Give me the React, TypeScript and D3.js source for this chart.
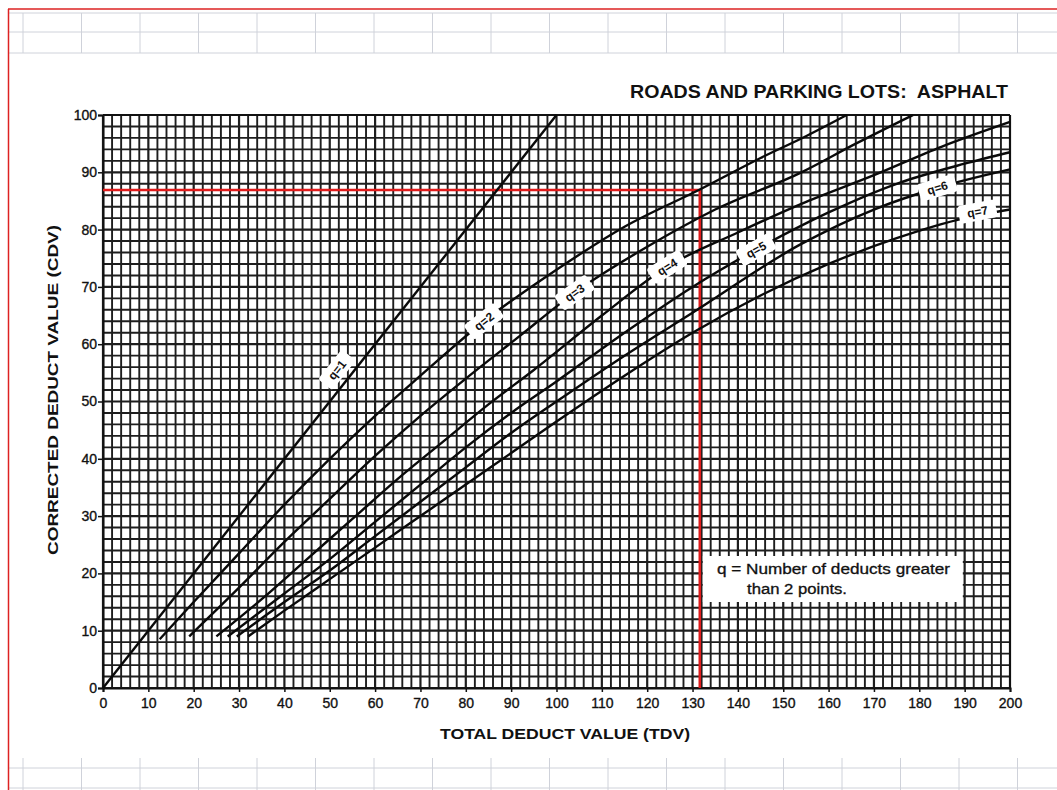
import { useEffect, useRef } from 'react'
import * as d3 from 'd3'

const WIDTH = 1057
const HEIGHT = 790

// corrected deduct value curves, [TDV, CDV]
const q1 = [[0, 0], [100, 100]]
const q2 = [[12.5, 8.5], [20, 15], [30, 23.5], [40, 32], [50, 40], [60, 47.5], [70, 54.5], [84, 64], [100, 73], [115, 80.5], [131.6, 87], [145, 92.5], [155, 96.3], [164, 100]]
const q3 = [[19, 9], [30, 17.5], [40, 25.5], [50, 33], [60, 40.5], [70, 47.5], [80, 54], [92, 61.5], [104, 69], [120, 77], [135, 83.5], [154, 90], [166, 95], [178.6, 100]]
const q4 = [[25, 9], [35, 15.5], [45, 22.5], [55, 29.5], [65, 36.5], [75, 43], [85, 49.5], [95, 55.5], [110, 65], [124.4, 73.5], [140, 79.5], [154, 84.5], [170, 89.5], [185, 94.5], [200, 98.8]]
const q5 = [[27.5, 9], [40, 16.5], [50, 22.5], [60, 29], [70, 35.5], [80, 42], [90, 48], [100, 53.5], [115, 62], [130, 70], [144, 76.5], [160, 83], [175, 88], [190, 91.5], [200, 93.5]]
const q6 = [[29.5, 9], [40, 15], [50, 20.5], [60, 26.5], [70, 32.5], [80, 38.5], [90, 44.5], [100, 50], [115, 58], [130, 65.5], [154, 77.5], [170, 83.5], [184, 87.3], [200, 90.5]]
const q7 = [[32, 9], [40, 13.5], [50, 19], [60, 24.5], [70, 30], [80, 35.5], [90, 41], [100, 46.5], [115, 54.5], [130, 62], [145, 68.5], [160, 74], [175, 78.5], [190, 82], [200, 83.5]]

const curves = [q1, q2, q3, q4, q5, q6, q7]
const curveNames = ['q=1', 'q=2', 'q=3', 'q=4', 'q=5', 'q=6', 'q=7']
const labelTdv = [54, 84, 104, 124.4, 144, 184, 193]

const tdvTicks = d3.range(0, 201, 10)
const cdvTicks = d3.range(0, 101, 10)

// worked example (red lines)
const readTdv = 131.6
const readCdv = 86.9

const title = 'ROADS AND PARKING LOTS:  ASPHALT'
const xTitle = 'TOTAL DEDUCT VALUE (TDV)'
const yTitle = 'CORRECTED DEDUCT VALUE (CDV)'
const note = ['q = Number of deducts greater', 'than 2 points.']

const FONT = '"Liberation Sans", Arial, Helvetica, sans-serif'

function cdvAt(curve: number[][], t: number) {
  const xs = curve.map(d => d[0])
  const i = Math.max(1, Math.min(curve.length - 1, d3.bisectLeft(xs, t)))
  const [x0, y0] = curve[i - 1]
  const [x1, y1] = curve[i]
  return y0 + ((t - x0) / (x1 - x0)) * (y1 - y0)
}

export default function App() {
  const svgRef = useRef<SVGSVGElement>(null)

  useEffect(() => {
    if (!svgRef.current) return
    const svg = d3.select(svgRef.current)
    svg.selectAll('*').remove()

    // spreadsheet background
    const sheet = svg.append('g')
    const colX = d3.range(23, WIDTH, 58.5)
    ;[13, 32, 53, 768, 788].forEach(y =>
      sheet.append('line').attr('x1', 8).attr('x2', WIDTH).attr('y1', y).attr('y2', y)
    )
    colX.forEach(x => {
      sheet.append('line').attr('x1', x).attr('x2', x).attr('y1', 13).attr('y2', 53)
      sheet.append('line').attr('x1', x).attr('x2', x).attr('y1', 758).attr('y2', HEIGHT)
    })
    sheet.selectAll('line').attr('stroke', '#cfd2da').attr('stroke-width', 1)
    svg.append('line').attr('x1', 8).attr('x2', WIDTH).attr('y1', 9).attr('y2', 9)
      .attr('stroke', '#d22').attr('stroke-width', 1.5)
    svg.append('line').attr('x1', 8.5).attr('x2', 8.5).attr('y1', 9).attr('y2', HEIGHT)
      .attr('stroke', '#d22').attr('stroke-width', 1.5)

    const x = d3.scaleLinear().domain([0, 200]).range([103, 1010])
    const y = d3.scaleLinear().domain([0, 100]).range([688, 115])

    // graph paper grid
    const grid = svg.append('g').attr('stroke', '#1e1e1e')
    grid.selectAll('.gv')
      .data(d3.range(0, 201, 2))
      .enter()
      .append('line')
      .attr('x1', d => x(d)).attr('x2', d => x(d))
      .attr('y1', y(0)).attr('y2', y(100))
      .attr('stroke-width', d => (d % 10 === 0 ? 2.2 : 1.9))
    grid.selectAll('.gh')
      .data(d3.range(0, 101, 2))
      .enter()
      .append('line')
      .attr('x1', x(0)).attr('x2', x(200))
      .attr('y1', d => y(d)).attr('y2', d => y(d))
      .attr('stroke-width', d => (d % 10 === 0 ? 2.2 : 1.9))

    // axes
    const xAxis = svg.append('g')
      .attr('transform', `translate(0,${y(0)})`)
      .call(d3.axisBottom(x).tickValues(tdvTicks).tickSize(4).tickPadding(6))
    const yAxis = svg.append('g')
      .attr('transform', `translate(${x(0)},0)`)
      .call(d3.axisLeft(y).tickValues(cdvTicks).tickSize(5).tickPadding(1))
    ;[xAxis, yAxis].forEach(a => {
      a.select('.domain').attr('stroke', '#111').attr('stroke-width', 2)
      a.selectAll('.tick line').attr('stroke', '#111').attr('stroke-width', 1.5)
      a.selectAll('.tick text')
        .attr('fill', '#111')
        .attr('stroke', '#111')
        .attr('stroke-width', 0.35)
        .style('font-family', FONT)
        .style('font-size', '14px')
    })
    svg.append('line')
      .attr('x1', x(0)).attr('x2', x(200)).attr('y1', y(100)).attr('y2', y(100))
      .attr('stroke', '#111').attr('stroke-width', 2)
    svg.append('line')
      .attr('x1', x(200)).attr('x2', x(200)).attr('y1', y(0)).attr('y2', y(100))
      .attr('stroke', '#111').attr('stroke-width', 2)

    // red reading lines
    svg.append('path')
      .attr('d', `M${x(0)},${y(readCdv)}H${x(readTdv)}V${y(0)}`)
      .attr('fill', 'none')
      .attr('stroke', '#e01b1b')
      .attr('stroke-width', 2.6)

    // curves
    const line = d3.line<number[]>()
      .x(d => x(d[0]))
      .y(d => y(d[1]))
      .curve(d3.curveMonotoneX)
    svg.selectAll('.curve')
      .data(curves)
      .enter()
      .append('path')
      .attr('class', 'curve')
      .attr('d', d => line(d))
      .attr('fill', 'none')
      .attr('stroke', '#0a0a0a')
      .attr('stroke-width', 2.4)

    // curve labels
    curves.forEach((c, i) => {
      const t = labelTdv[i]
      const px = x(t)
      const py = y(cdvAt(c, t))
      const ang = (Math.atan2(y(cdvAt(c, t + 2)) - y(cdvAt(c, t - 2)), x(t + 2) - x(t - 2)) * 180) / Math.PI
      const shift = i === 0 ? -14 : i === 6 ? -4 : 0
      const g = svg.append('g')
        .attr('transform', `translate(${px},${py}) rotate(${ang}) translate(0,${shift})`)
      g.append('rect')
        .attr('x', -19).attr('y', -9).attr('width', 38).attr('height', 18)
        .attr('rx', 3)
        .attr('fill', '#fff')
      g.append('text')
        .attr('text-anchor', 'middle')
        .attr('dy', '0.36em')
        .style('font-family', FONT)
        .style('font-size', '12px')
        .style('font-weight', 'bold')
        .attr('fill', '#111')
        .text(curveNames[i])
    })

    // note box
    svg.append('rect')
      .attr('x', x(readTdv) + 3).attr('y', 556)
      .attr('width', 260).attr('height', 46)
      .attr('fill', '#fff')
    svg.append('text')
      .attr('x', 717).attr('y', 574)
      .attr('textLength', 233).attr('lengthAdjust', 'spacingAndGlyphs')
      .style('font-family', FONT).style('font-size', '14px')
      .attr('fill', '#111').attr('stroke', '#111').attr('stroke-width', 0.3)
      .text(note[0])
    svg.append('text')
      .attr('x', 747).attr('y', 594)
      .attr('textLength', 100).attr('lengthAdjust', 'spacingAndGlyphs')
      .style('font-family', FONT).style('font-size', '14px')
      .attr('fill', '#111').attr('stroke', '#111').attr('stroke-width', 0.3)
      .text(note[1])

    // titles
    svg.append('text')
      .attr('x', 1008).attr('y', 98)
      .attr('text-anchor', 'end')
      .attr('textLength', 378).attr('lengthAdjust', 'spacingAndGlyphs')
      .style('font-family', FONT).style('font-size', '18px').style('font-weight', 'bold')
      .attr('fill', '#111')
      .style('white-space', 'pre')
      .text(title)
    svg.append('text')
      .attr('x', 565).attr('y', 739)
      .attr('text-anchor', 'middle')
      .attr('textLength', 250).attr('lengthAdjust', 'spacingAndGlyphs')
      .style('font-family', FONT).style('font-size', '15px').style('font-weight', 'bold')
      .attr('fill', '#111')
      .text(xTitle)
    svg.append('text')
      .attr('transform', `translate(58,${390}) rotate(-90)`)
      .attr('text-anchor', 'middle')
      .attr('textLength', 330).attr('lengthAdjust', 'spacingAndGlyphs')
      .style('font-family', FONT).style('font-size', '15px').style('font-weight', 'bold')
      .attr('fill', '#111')
      .text(yTitle)
  }, [])

  return (
    <svg
      ref={svgRef}
      width={WIDTH}
      height={HEIGHT}
      style={{ position: 'absolute', left: 0, top: 0, background: '#fff' }}
    />
  )
}
